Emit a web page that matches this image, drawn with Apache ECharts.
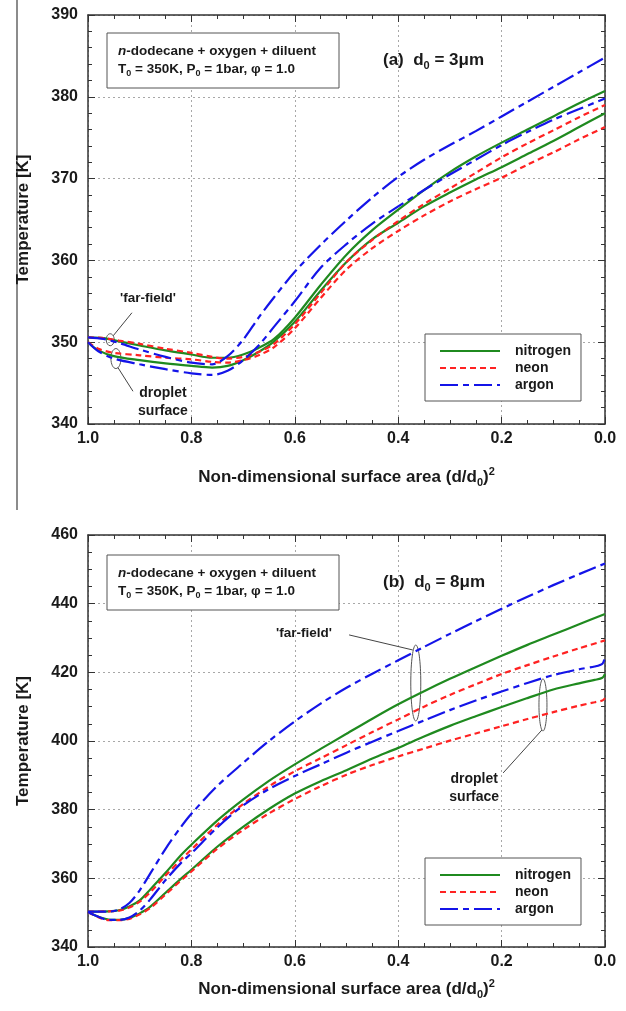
<!DOCTYPE html>
<html>
<head>
<meta charset="utf-8">
<script src="https://cdn.jsdelivr.net/npm/echarts@6/dist/echarts.min.js"></script>
<style>
  html, body { margin: 0; padding: 0; background: #fff; }
  #chart { width: 626px; height: 1011px; }
</style>
</head>
<body>
<div id="chart"></div>
<script>
// ---------------- DATA ----------------
// x = non-dimensional surface area (d/d0)^2 ; y = temperature [K]
// Panel (a): d0 = 3 um
const xA_ff = [1.0, 0.97, 0.94, 0.9, 0.85, 0.8, 0.76, 0.73, 0.7, 0.67, 0.64, 0.6, 0.55, 0.5, 0.45, 0.4, 0.35, 0.3, 0.25, 0.2, 0.15, 0.1, 0.05, 0.0];
const xA_ds = [1.0, 0.98, 0.95, 0.9, 0.85, 0.8, 0.76, 0.73, 0.7, 0.67, 0.64, 0.6, 0.55, 0.5, 0.45, 0.4, 0.35, 0.3, 0.25, 0.2, 0.15, 0.1, 0.05, 0.0];
const a_nitrogen_ff = [350.6, 350.5, 350.1, 349.6, 349.0, 348.5, 348.1, 348.1, 348.5, 349.3, 350.4, 353.0, 357.0, 360.7, 363.7, 366.2, 368.6, 370.8, 372.7, 374.4, 376.0, 377.6, 379.2, 380.7];
const a_neon_ff     = [350.6, 350.5, 350.2, 349.8, 349.2, 348.7, 348.2, 348.0, 348.2, 348.8, 349.8, 352.2, 356.0, 359.8, 362.5, 364.8, 366.9, 368.8, 370.7, 372.6, 374.3, 375.9, 377.5, 379.0];
const a_argon_ff    = [350.6, 350.4, 349.9, 349.1, 348.2, 347.5, 347.3, 348.3, 350.3, 353.0, 355.5, 358.6, 361.9, 364.9, 367.7, 370.2, 372.3, 374.1, 375.8, 377.6, 379.4, 381.2, 383.0, 384.8];
const a_nitrogen_ds = [350.0, 349.0, 348.3, 347.8, 347.4, 347.1, 346.9, 347.1, 347.8, 348.8, 350.1, 352.5, 356.3, 359.8, 362.6, 364.6, 366.6, 368.3, 369.9, 371.4, 373.0, 374.6, 376.3, 378.0];
const a_neon_ds     = [350.0, 349.2, 348.7, 348.4, 348.1, 347.9, 347.6, 347.5, 347.8, 348.4, 349.4, 351.7, 355.4, 358.9, 361.5, 363.6, 365.5, 367.2, 368.7, 370.1, 371.7, 373.2, 374.8, 376.3];
const a_argon_ds    = [350.0, 348.9, 348.0, 347.3, 346.7, 346.2, 346.0, 346.5, 347.8, 349.6, 351.9, 355.0, 359.1, 362.0, 364.5, 366.6, 368.6, 370.5, 372.3, 374.1, 375.7, 377.2, 378.5, 379.8];

// Panel (b): d0 = 8 um
const xB_ff = [1.0, 0.96, 0.94, 0.92, 0.9, 0.88, 0.85, 0.82, 0.8, 0.75, 0.7, 0.65, 0.6, 0.55, 0.5, 0.45, 0.4, 0.35, 0.3, 0.25, 0.2, 0.15, 0.1, 0.05, 0.0];
const xB_ds = [1.0, 0.98, 0.96, 0.94, 0.92, 0.9, 0.88, 0.85, 0.82, 0.8, 0.75, 0.7, 0.65, 0.6, 0.55, 0.5, 0.45, 0.4, 0.35, 0.3, 0.25, 0.2, 0.15, 0.1, 0.05, 0.02, 0.005, 0.0];
const b_nitrogen_ff = [350.3, 350.4, 350.7, 351.8, 353.6, 356.7, 361.6, 366.8, 369.8, 376.8, 382.9, 388.4, 393.2, 397.7, 402.1, 406.5, 410.7, 414.5, 418.1, 421.5, 424.8, 428.0, 431.0, 434.0, 437.0];
const b_neon_ff     = [350.3, 350.4, 350.6, 351.5, 353.2, 355.9, 360.8, 365.5, 368.4, 375.6, 381.6, 386.8, 391.2, 395.0, 398.8, 402.6, 406.3, 410.0, 413.4, 416.5, 419.5, 422.1, 424.6, 427.0, 429.3];
const b_argon_ff    = [350.3, 350.3, 350.9, 352.8, 356.5, 361.3, 368.6, 375.0, 378.8, 386.9, 393.6, 400.0, 405.7, 410.9, 415.5, 419.6, 423.5, 427.4, 431.2, 434.9, 438.5, 442.0, 445.4, 448.6, 451.7];
const b_nitrogen_ds = [350.2, 348.8, 348.0, 347.9, 348.4, 349.8, 351.7, 355.8, 359.9, 362.5, 369.2, 375.0, 380.2, 384.7, 388.3, 391.5, 394.9, 398.0, 401.3, 404.4, 407.2, 409.9, 412.5, 415.0, 416.8, 417.8, 418.4, 419.5];
const b_neon_ds     = [350.2, 348.7, 347.8, 347.8, 348.2, 349.5, 351.3, 355.3, 359.4, 362.0, 368.6, 374.1, 378.9, 383.1, 386.8, 390.2, 393.0, 395.5, 397.8, 400.1, 402.2, 404.3, 406.4, 408.4, 410.3, 411.3, 411.8, 412.5];
const b_argon_ds    = [350.2, 348.8, 347.9, 347.9, 348.6, 350.6, 353.8, 359.5, 364.5, 367.3, 374.8, 381.2, 386.0, 389.8, 393.2, 396.6, 399.8, 402.9, 406.0, 409.0, 411.8, 414.4, 416.9, 419.2, 420.9, 421.7, 422.5, 424.5];

const gasNames = ['nitrogen', 'neon', 'argon'];
const xTicksMin = 0, xTicksMax = 1, xInterval = 0.2;
const yA = { min: 340, max: 390, interval: 10 };
const yB = { min: 340, max: 460, interval: 20 };

// ---------------- STYLE ----------------
const FONT = '"Liberation Sans", Arial, Helvetica, sans-serif';
const TXT = '#1a1a1a';
const COLORS = { nitrogen: '#1f8a1f', neon: '#ff2222', argon: '#1414e8' };
const DASH = { nitrogen: 'solid', neon: [6, 4], argon: [18, 5, 6, 5] };

const chart = echarts.init(document.getElementById('chart'), null, { renderer: 'canvas' });

function pair(xs, ys) { return xs.map((x, i) => [x, ys[i]]); }
function line(name, xs, ys, xi, yi) {
  return {
    type: 'line', name: name, data: pair(xs, ys),
    xAxisIndex: xi, yAxisIndex: yi,
    symbol: 'none', showSymbol: false, smooth: 0.3,
    lineStyle: { color: COLORS[name], width: 2.2, type: DASH[name] },
    itemStyle: { color: COLORS[name], opacity: 0 },
    emphasis: { disabled: true }, silent: true
  };
}

const axisLineStyle = { show: true, onZero: false, lineStyle: { color: '#333', width: 1.5 } };
function xAxisDef(grid, pos, showLabel, nameGap) {
  return {
    type: 'value', gridIndex: grid, position: pos, inverse: true,
    min: xTicksMin, max: xTicksMax, interval: xInterval,
    axisLine: axisLineStyle,
    axisTick: { show: true, inside: true, length: 7, lineStyle: { color: '#333', width: 1 } },
    minorTick: { show: true, splitNumber: 4, length: 4, lineStyle: { color: '#333', width: 1 } },
    splitLine: { show: showLabel, lineStyle: { color: '#a8a8a8', type: [2, 3], width: 1 } },
    minorSplitLine: { show: false },
    axisLabel: {
      show: showLabel, margin: 7, color: TXT, fontFamily: FONT, fontSize: 16, fontWeight: 'bold',
      formatter: v => v.toFixed(1)
    },
    name: showLabel ? '{m|Non-dimensional surface area (d/d}{s|0}{m|)}{p|2}' : '',
    nameLocation: 'middle', nameGap: nameGap,
    nameTextStyle: {
      color: TXT, fontFamily: FONT, fontWeight: 'bold',
      rich: {
        m: { fontSize: 17, fontWeight: 'bold', fontFamily: FONT, color: TXT, lineHeight: 22 },
        s: { fontSize: 11, fontWeight: 'bold', fontFamily: FONT, color: TXT, lineHeight: 8, verticalAlign: 'bottom' },
        p: { fontSize: 11, fontWeight: 'bold', fontFamily: FONT, color: TXT, lineHeight: 8, verticalAlign: 'top' }
      }
    }
  };
}
function yAxisDef(grid, pos, showLabel, rng, minorSplit) {
  return {
    type: 'value', gridIndex: grid, position: pos,
    min: rng.min, max: rng.max, interval: rng.interval,
    axisLine: axisLineStyle,
    axisTick: { show: true, inside: true, length: 7, lineStyle: { color: '#333', width: 1 } },
    minorTick: { show: true, splitNumber: minorSplit, length: 4, lineStyle: { color: '#333', width: 1 } },
    splitLine: { show: showLabel, lineStyle: { color: '#a8a8a8', type: [2, 3], width: 1 } },
    axisLabel: { show: showLabel, margin: 10, color: TXT, fontFamily: FONT, fontSize: 16, fontWeight: 'bold' },
    name: showLabel ? 'Temperature [K]' : '',
    nameLocation: 'middle', nameGap: 56, nameRotate: 90,
    nameTextStyle: { color: TXT, fontFamily: FONT, fontSize: 17, fontWeight: 'bold' }
  };
}

const legendBase = {
  orient: 'vertical', data: gasNames,
  itemWidth: 60, itemHeight: 14, itemGap: 3,
  padding: [10, 10, 9, 14],
  borderColor: '#555', borderWidth: 1, backgroundColor: '#fff',
  itemStyle: { opacity: 0 },
  textStyle: { color: TXT, fontFamily: FONT, fontSize: 14, fontWeight: 'bold', padding: [0, 0, 0, 10] },
  selectedMode: false
};

const series = [];
gasNames.forEach(g => {
  const aff = { nitrogen: a_nitrogen_ff, neon: a_neon_ff, argon: a_argon_ff }[g];
  const ads = { nitrogen: a_nitrogen_ds, neon: a_neon_ds, argon: a_argon_ds }[g];
  const bff = { nitrogen: b_nitrogen_ff, neon: b_neon_ff, argon: b_argon_ff }[g];
  const bds = { nitrogen: b_nitrogen_ds, neon: b_neon_ds, argon: b_argon_ds }[g];
  series.push(line(g, xA_ff, aff, 0, 0));
  series.push(line(g, xA_ds, ads, 0, 0));
  series.push(line(g, xB_ff, bff, 2, 2));
  series.push(line(g, xB_ds, bds, 2, 2));
});

const option = {
  animation: false,
  backgroundColor: '#fff',
  grid: [
    { left: 88, top: 15, width: 517, height: 409, containLabel: false, outerBoundsMode: 'none' },
    { left: 88, top: 535, width: 517, height: 412, containLabel: false, outerBoundsMode: 'none' }
  ],
  xAxis: [
    xAxisDef(0, 'bottom', true, 42),
    xAxisDef(0, 'top', false, 0),
    xAxisDef(1, 'bottom', true, 31),
    xAxisDef(1, 'top', false, 0)
  ],
  yAxis: [
    yAxisDef(0, 'left', true, yA, 5),
    yAxisDef(0, 'right', false, yA, 5),
    yAxisDef(1, 'left', true, yB, 4),
    yAxisDef(1, 'right', false, yB, 4)
  ],
  legend: [
    Object.assign({}, legendBase, { left: 425, top: 334 }),
    Object.assign({}, legendBase, { left: 425, top: 858 })
  ],
  series: series
};
chart.setOption(option);

// ---------------- ANNOTATIONS ----------------
// anchor points in data coordinates
const annA = {
  ffEllipse: [0.957, 350.3], ffLineEnd: [0.915, 353.6], ffText: [0.884, 355.4],
  dsEllipse: [0.946, 348.0], dsLineEnd: [0.913, 344.0], dsText1: [0.855, 343.8], dsText2: [0.855, 341.6]
};
const annB = {
  ffEllipse: [0.366, 416.9], ffLineStart: [0.495, 430.9], ffText: [0.505, 431.5],
  dsEllipse: [0.12, 410.5], dsLineEnd: [0.197, 390.7], dsText1: [0.253, 388.9], dsText2: [0.253, 383.7]
};
function P(g, pt) { return chart.convertToPixel({ xAxisIndex: g * 2, yAxisIndex: g * 2 }, pt); }

const annoText = (pos, text, align, size) => ({
  type: 'text', x: pos[0], y: pos[1], silent: true,
  style: { text: text, fill: TXT, font: 'bold ' + (size || 14) + 'px ' + FONT, align: align || 'center', verticalAlign: 'middle' }
});
const ell = (c, rx, ry) => ({
  type: 'ellipse', silent: true, shape: { cx: c[0], cy: c[1], rx: rx, ry: ry },
  style: { fill: 'none', stroke: '#555', lineWidth: 1 }
});
const seg = (p1, p2) => ({
  type: 'line', silent: true, shape: { x1: p1[0], y1: p1[1], x2: p2[0], y2: p2[1] },
  style: { stroke: '#444', lineWidth: 1 }
});

const g = [];
// page frame line at the left
g.push({ type: 'line', silent: true, shape: { x1: 17, y1: 0, x2: 17, y2: 510 }, style: { stroke: '#666', lineWidth: 1.5 } });

// panel (a)
{
  const e1 = P(0, annA.ffEllipse), e2 = P(0, annA.dsEllipse);
  g.push(ell(e1, 4, 6));
  g.push(ell(e2, 5, 10));
  g.push(seg([e1[0] + 3, e1[1] - 4], P(0, annA.ffLineEnd)));
  g.push(seg([e2[0] + 2, e2[1] + 9], P(0, annA.dsLineEnd)));
  g.push(annoText(P(0, annA.ffText), "'far-field'", 'center', 13.5));
  g.push(annoText(P(0, annA.dsText1), 'droplet', 'center', 14));
  g.push(annoText(P(0, annA.dsText2), 'surface', 'center', 14));
}
// panel (b)
{
  const e1 = P(1, annB.ffEllipse), e2 = P(1, annB.dsEllipse);
  g.push(ell(e1, 5, 38));
  g.push(ell(e2, 4, 26));
  const s1 = P(1, annB.ffLineStart);
  g.push(seg(s1, [e1[0] - 3, e1[1] - 33]));
  g.push(seg([e2[0] - 1, e2[1] + 25], P(1, annB.dsLineEnd)));
  const t = P(1, annB.ffText);
  g.push(annoText([t[0] - 12, t[1]], "'far-field'", 'right', 13.5));
  g.push(annoText(P(1, annB.dsText1), 'droplet', 'center', 14));
  g.push(annoText(P(1, annB.dsText2), 'surface', 'center', 14));
}

// info boxes and panel labels
const richBox = {
  b: { fontSize: 13.5, fontWeight: 'bold', fontFamily: FONT, fill: TXT, color: TXT, lineHeight: 18 },
  i: { fontSize: 13.5, fontWeight: 'bold', fontStyle: 'italic', fontFamily: FONT, fill: TXT, color: TXT, lineHeight: 18 },
  s: { fontSize: 9, fontWeight: 'bold', fontFamily: FONT, fill: TXT, color: TXT, lineHeight: 6, verticalAlign: 'bottom' }
};
const richLbl = {
  b: { fontSize: 17, fontWeight: 'bold', fontFamily: FONT, fill: TXT, color: TXT, lineHeight: 22 },
  s: { fontSize: 11, fontWeight: 'bold', fontFamily: FONT, fill: TXT, color: TXT, lineHeight: 7, verticalAlign: 'bottom' }
};
const boxText = '{i|n}{b|-dodecane + oxygen + diluent}\n{b|T}{s|0}{b| = 350K, P}{s|0}{b| = 1bar, φ = 1.0}';
[[33, 0, '(a)'], [555, 1, '(b)']].forEach(([top, idx, tag]) => {
  g.push({ type: 'rect', silent: true, shape: { x: 107, y: top, width: 232, height: 55 },
           style: { fill: '#fff', stroke: '#555', lineWidth: 1 } });
  g.push({ type: 'text', silent: true, x: 118, y: top + 27.5,
           style: { text: boxText, rich: richBox, align: 'left', verticalAlign: 'middle', fill: TXT } });
  g.push({ type: 'text', silent: true, x: 383, y: top + 27,
           style: { text: '{b|' + tag + '  d}{s|0}{b| = ' + (idx === 0 ? '3' : '8') + 'μm}', rich: richLbl,
                    align: 'left', verticalAlign: 'middle', fill: TXT } });
});

chart.setOption({ graphic: { elements: g } });
</script>
</body>
</html>
